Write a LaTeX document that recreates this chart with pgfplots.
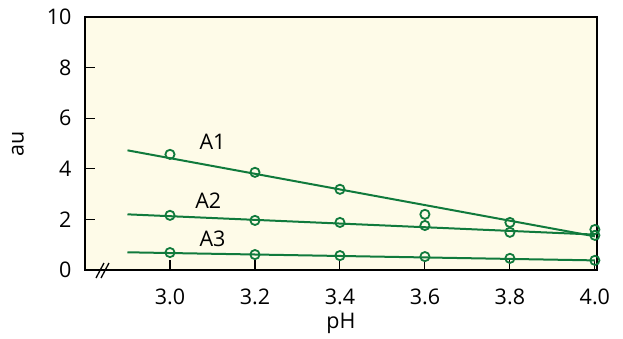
\documentclass[border=0pt]{standalone}
\usepackage{pgfplots}
\pgfplotsset{compat=1.18}
\usepackage{fontspec}
\setmainfont{Open Sans}
\definecolor{cream}{RGB}{254,251,232}
\definecolor{dgreen}{RGB}{16,122,60}
\begin{document}
\begin{tikzpicture}
\begin{axis}[
  at={(0pt,0pt)}, anchor=south west,
  scale only axis, width=512pt, height=253pt,
  xmin=2.8, xmax=4.005, ymin=0, ymax=10,
  axis background/.style={fill=cream},
  axis line style={line width=1.3pt},
  xtick={3.0,3.2,3.4,3.6,3.8,4.0},
  xticklabels={3.0,3.2,3.4,3.6,3.8,4.0},
  ytick={0,2,4,6,8,10},
  xtick pos=bottom, ytick pos=left,
  tick align=inside,
  major tick length=10pt,
  tick style={line width=1.1pt, black},
  tick label style={font=\fontsize{21.5}{24}\selectfont},
  /pgf/number format/assume math mode=true,
  xticklabel style={anchor=center, yshift=-27pt},
  yticklabel style={anchor=east, xshift=-10pt},
  xlabel={pH}, ylabel={au},
  label style={font=\fontsize{21.5}{24}\selectfont},
  xlabel style={at={(axis description cs:0.5,-0.213)}, anchor=center},
  ylabel style={at={(axis description cs:-0.131,0.5)}, anchor=center},
  clip=false,
]
% fitted lines
\addplot[dgreen, line width=2pt] coordinates {(2.9,4.73) (4.0,1.33)};
\addplot[dgreen, line width=2pt] coordinates {(2.9,2.2) (4.0,1.40)};
\addplot[dgreen, line width=2pt] coordinates {(2.9,0.70) (4.0,0.38)};
% data points
\addplot[only marks, mark=o, mark size=4.6pt, mark options={dgreen, line width=1.8pt}] coordinates {
 (3.0,4.57) (3.2,3.86) (3.4,3.19) (3.6,2.2) (3.8,1.88) (4.0,1.6)};
\addplot[only marks, mark=o, mark size=4.6pt, mark options={dgreen, line width=1.8pt}] coordinates {
 (3.0,2.16) (3.2,1.96) (3.4,1.88) (3.6,1.76) (3.8,1.49) (4.0,1.37)};
\addplot[only marks, mark=o, mark size=4.6pt, mark options={dgreen, line width=1.8pt}] coordinates {
 (3.0,0.69) (3.2,0.61) (3.4,0.57) (3.6,0.53) (3.8,0.46) (4.0,0.38)};
\node[font=\fontsize{21.5}{24}\selectfont] at (axis cs:3.1,5.05) {A1};
\node[font=\fontsize{21.5}{24}\selectfont] at (axis cs:3.09,2.75) {A2};
\node[font=\fontsize{21.5}{24}\selectfont] at (axis cs:3.1,1.25) {A3};
% axis break marks
\draw[line width=1.3pt] (axis cs:2.84,0) ++(-6pt,-8pt) -- ++(8pt,15pt);
\draw[line width=1.3pt] (axis cs:2.84,0) ++(-1pt,-8pt) -- ++(8pt,15pt);
\end{axis}
\useasboundingbox (-85pt,-68pt) rectangle (538pt,270pt);
\end{tikzpicture}
\end{document}
